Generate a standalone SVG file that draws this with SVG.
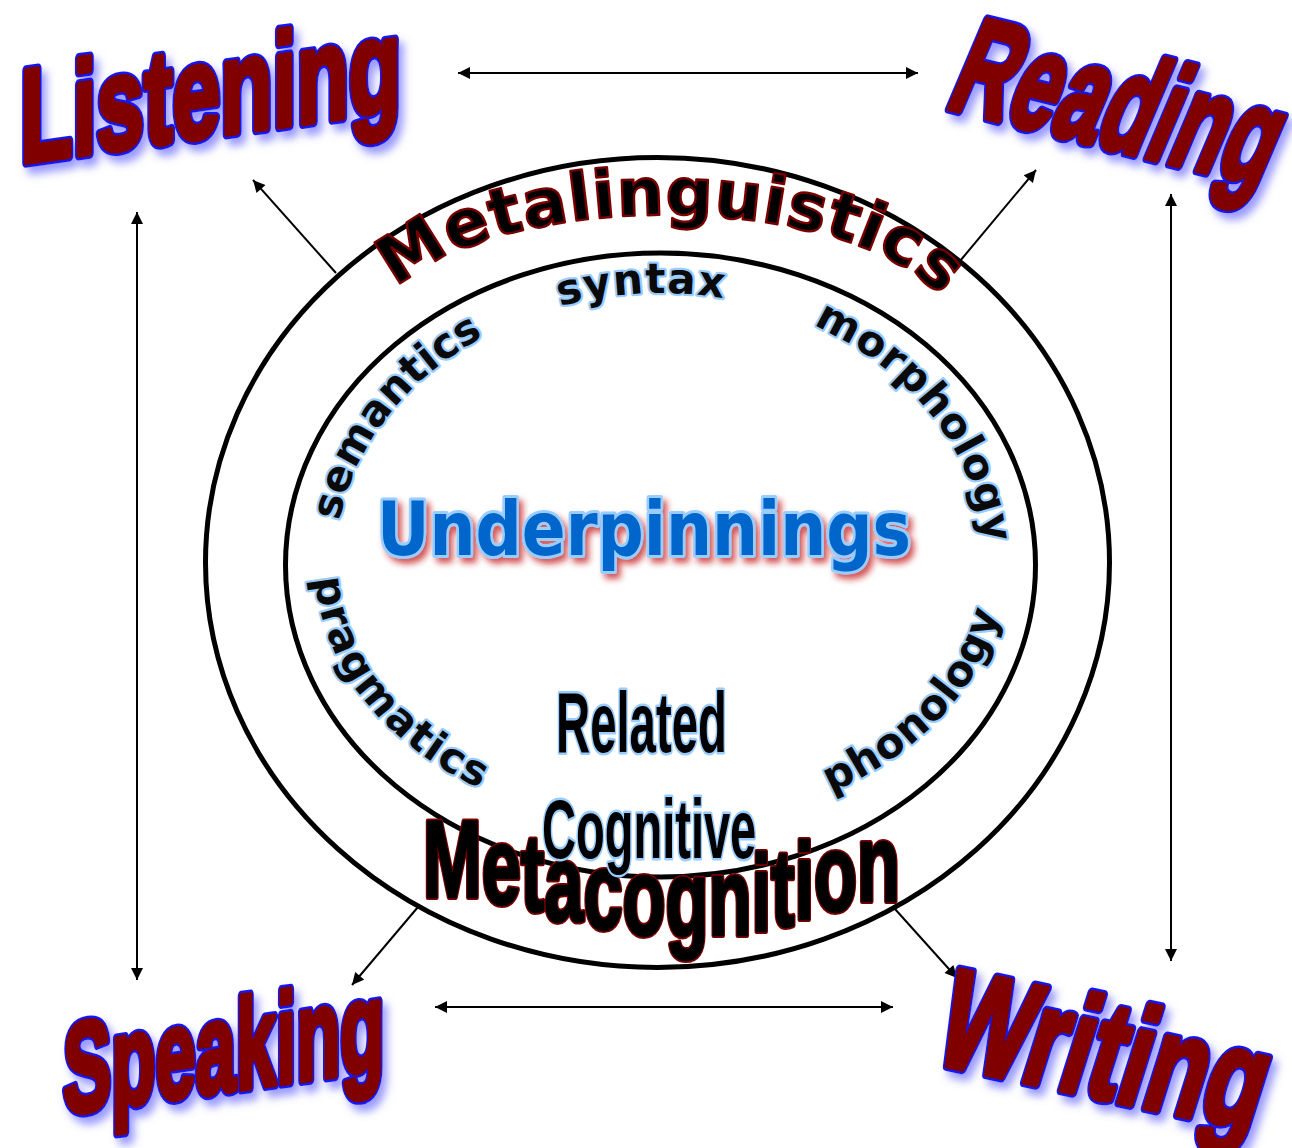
<svg xmlns="http://www.w3.org/2000/svg" xmlns:xlink="http://www.w3.org/1999/xlink" width="1292" height="1148" viewBox="0 0 1292 1148">
  <style>
    .conn { stroke:#000; stroke-width:2; fill:none; }
    .dbl { marker-start:url(#ah); marker-end:url(#ah); }
    .one { marker-end:url(#ah); }
    .ring { fill:none; stroke:#000; stroke-width:5; }
    .skill { font-family:"Liberation Sans", Arial, sans-serif; font-weight:bold; }
    .edge { fill:#1414f0; stroke:#1414f0; stroke-width:11; stroke-linejoin:round; }
    .core { fill:#800000; stroke:#800000; stroke-width:6; stroke-linejoin:round; }
    .arch { font-family:"DejaVu Sans", "Liberation Sans", sans-serif; font-weight:bold; fill:#000; stroke:#7a0000; stroke-width:2.4; stroke-linejoin:round; }
    .sub { font-family:"DejaVu Sans", "Liberation Sans", sans-serif; font-weight:bold; font-size:42px; fill:#0a0a0a; stroke:#99ccff; stroke-width:4.5; stroke-linejoin:round; paint-order:stroke; }
    .rel { font-family:"Liberation Sans", Arial, sans-serif; font-weight:bold; fill:#000; stroke:#99ccff; stroke-width:5; stroke-linejoin:round; paint-order:stroke; }
    .under { font-family:"DejaVu Sans", "Liberation Sans", sans-serif; font-weight:bold; font-size:75px; fill:#0066cc; stroke:#99ccff; stroke-width:6; stroke-linejoin:round; paint-order:stroke; }
    .mc-edge { fill:#7a0000; stroke:#7a0000; stroke-width:6; stroke-linejoin:round; }
    .mc-core { fill:#000; stroke:#000; stroke-width:2.5; stroke-linejoin:round; }
  </style>
  <defs>
    <marker id="ah" viewBox="0 0 10 10" refX="10" refY="5" markerWidth="14" markerHeight="12" markerUnits="userSpaceOnUse" orient="auto-start-reverse">
      <path d="M0,0 L10,5 L0,10 z" fill="#000"/>
    </marker>
    <filter id="glow" x="-15%" y="-25%" width="135%" height="160%">
      <feGaussianBlur in="SourceAlpha" stdDeviation="4"/>
      <feOffset dx="5" dy="7" result="blur"/>
      <feFlood flood-color="#7070ff" flood-opacity="0.7"/>
      <feComposite in2="blur" operator="in"/>
      <feMerge><feMergeNode/><feMergeNode in="SourceGraphic"/></feMerge>
    </filter>
    <filter id="redShadow" x="-10%" y="-30%" width="120%" height="170%">
      <feGaussianBlur in="SourceAlpha" stdDeviation="3"/>
      <feOffset dx="4" dy="5" result="blur"/>
      <feFlood flood-color="#c42020" flood-opacity="0.75"/>
      <feComposite in2="blur" operator="in"/>
      <feMerge><feMergeNode/><feMergeNode in="SourceGraphic"/></feMerge>
    </filter>
    <!-- baselines for the curved labels -->
    <path id="archTop" d="M 375 335 A 290 120 0 0 1 955 335"/>
    <path id="cw" d="M 335 565 A 325 272 0 1 1 985 565 A 325 272 0 1 1 335 565"/>
    <path id="ccw" d="M 315 565 A 345 262 0 1 0 1005 565 A 345 262 0 1 0 315 565"/>
    <!-- skill words -->
    <text id="t-listening" class="skill" font-size="133">Listening</text>
    <text id="t-reading" class="skill" font-size="143">Reading</text>
    <text id="t-speaking" class="skill" font-size="128">Speaking</text>
    <text id="t-writing" class="skill" font-size="143">Writing</text>
    <text id="t-metacog" class="skill" font-size="110" x="0" y="897"
          dy="0 7 7 10 8 6 2 -2 -4 -5 -7 -8 -10">Metacognition</text>
  </defs>

  <rect width="1292" height="1148" fill="#fff"/>

  <g id="connectors">
    <line class="conn dbl" x1="458" y1="73" x2="918" y2="73"/>
    <line class="conn dbl" x1="435" y1="1007" x2="893" y2="1007"/>
    <line class="conn dbl" x1="137" y1="212" x2="137" y2="980"/>
    <line class="conn dbl" x1="1171" y1="194" x2="1171" y2="961"/>
    <line class="conn one" x1="336" y1="273" x2="253" y2="180"/>
    <line class="conn one" x1="960" y1="261" x2="1036" y2="170"/>
    <line class="conn one" x1="418" y1="907" x2="352" y2="985"/>
    <line class="conn one" x1="895" y1="909" x2="957" y2="978"/>
  </g>

  <g id="ring-outer">
    <ellipse class="ring" cx="657.5" cy="562.5" rx="452" ry="405"/>
  </g>
  <g id="ring-inner">
    <ellipse class="ring" cx="660.5" cy="565" rx="375" ry="312"/>
  </g>

  <g id="metalinguistics">
    <text class="arch" font-size="66"><textPath xlink:href="#archTop" href="#archTop" startOffset="52" textLength="578">Metalinguistics</textPath></text>
  </g>

  <g id="subskills">
    <text id="syntax" class="sub"><textPath href="#cw" xlink:href="#cw" startOffset="24%" text-anchor="middle" textLength="165">syntax</textPath></text>
    <text id="semantics" class="sub"><textPath href="#cw" xlink:href="#cw" startOffset="8.8%" text-anchor="middle" textLength="242">semantics</textPath></text>
    <text id="morphology" class="sub"><textPath href="#cw" xlink:href="#cw" startOffset="41.1%" text-anchor="middle" textLength="290">morphology</textPath></text>
    <text id="pragmatics" class="sub"><textPath href="#ccw" xlink:href="#ccw" startOffset="8%" text-anchor="middle" textLength="280">pragmatics</textPath></text>
    <text id="phonology" class="sub"><textPath href="#ccw" xlink:href="#ccw" startOffset="40.8%" text-anchor="middle" textLength="255">phonology</textPath></text>
  </g>

  <g id="underpinnings" filter="url(#redShadow)">
    <text class="under" x="377" y="555" textLength="534" lengthAdjust="spacingAndGlyphs">Underpinnings</text>
  </g>

  <g id="metacognition">
    <g transform="translate(423 0) scale(0.64 1)">
      <use href="#t-metacog" xlink:href="#t-metacog" class="mc-edge"/>
      <use href="#t-metacog" xlink:href="#t-metacog" class="mc-core"/>
    </g>
  </g>

  <g id="related-cognitive">
    <text class="rel" font-size="86" transform="translate(556 752) scale(0.55 1)">Related</text>
    <text class="rel" font-size="84" transform="translate(542 858) scale(0.56 1)">Cognitive</text>
  </g>

  <g id="listening" filter="url(#glow)">
    <g transform="translate(20 163) skewY(-8) scale(0.645 1)">
      <use href="#t-listening" xlink:href="#t-listening" class="edge"/>
      <use href="#t-listening" xlink:href="#t-listening" class="core"/>
    </g>
  </g>
  <g id="reading" filter="url(#glow)">
    <g transform="translate(943 107) skewY(14) skewX(-21) scale(0.565 1)">
      <use href="#t-reading" xlink:href="#t-reading" class="edge"/>
      <use href="#t-reading" xlink:href="#t-reading" class="core"/>
    </g>
  </g>
  <g id="speaking" filter="url(#glow)">
    <g transform="translate(63 1114) skewY(-8) scale(0.565 1)">
      <use href="#t-speaking" xlink:href="#t-speaking" class="edge"/>
      <use href="#t-speaking" xlink:href="#t-speaking" class="core"/>
    </g>
  </g>
  <g id="writing" filter="url(#glow)">
    <g transform="translate(930 1062) skewY(12) skewX(-16.4) scale(0.66 1)">
      <use href="#t-writing" xlink:href="#t-writing" class="edge"/>
      <use href="#t-writing" xlink:href="#t-writing" class="core"/>
    </g>
  </g>
</svg>
